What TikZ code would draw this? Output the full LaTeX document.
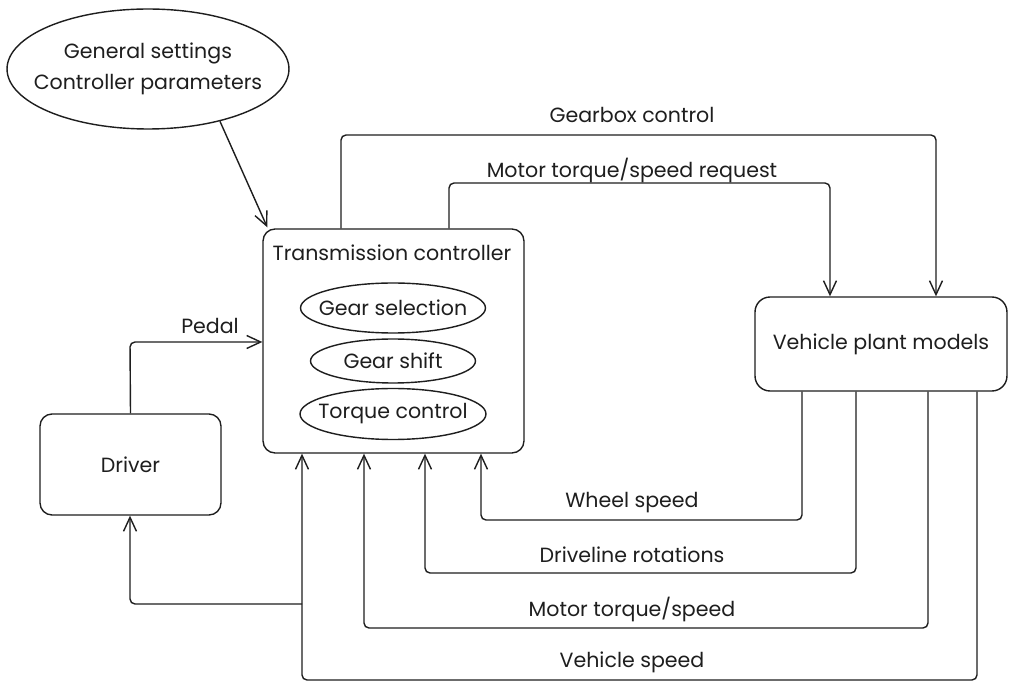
\documentclass[tikz,border=0pt]{standalone}
\usepackage{fontspec}
\setmainfont{Poppins}
\usetikzlibrary{shapes.geometric,arrows.meta}

\definecolor{ink}{HTML}{1E1E1E}
\tikzset{
  box/.style={draw=ink, line width=0.8pt, rounded corners=0.24cm},
  oval/.style={draw=ink, line width=0.8pt, ellipse, inner sep=0pt},
  flow/.style={draw=ink, line width=0.8pt, rounded corners=0.1cm,
    -{Straight Barb[length=2.8mm,width=2.6mm]}},
  lbl/.style={font=\fontsize{11.7}{18}\selectfont, text=ink}
}

\begin{document}
\begin{tikzpicture}[x=0.02cm, y=-0.02cm]
    \useasboundingbox (0,0) rectangle (1009,682);
    \fill[white] (0,0) rectangle (1009,682);

    % blocks
    \node[oval, minimum width=5.64cm, minimum height=2.4cm] (settings) at (148,69) {};
    \node[lbl, align=center] (settingstext) at (settings) {General settings\\Controller parameters};
    \node[box, minimum width=5.22cm, minimum height=4.48cm] (ctrl) at (393.5,341) {};
    \node[lbl] (ctrltitle) at (392,253) {Transmission controller};
    \node[oval, minimum width=3.7cm, minimum height=1.0cm] (gearsel) at (393,308) {};
    \node[lbl] (gearseltext) at (gearsel) {Gear selection};
    \node[oval, minimum width=3.3cm, minimum height=0.88cm] (gearshift) at (393,361) {};
    \node[lbl] (gearshifttext) at (gearshift) {Gear shift};
    \node[oval, minimum width=3.72cm, minimum height=1.02cm] (torque) at (393,414) {};
    \node[lbl] (torquetext) at (torque) {Torque control};
    \node[box, lbl, rounded corners=0.3cm, minimum width=5.04cm, minimum height=1.88cm] (plant) at (881,344) {Vehicle plant models};
    \node[box, lbl, minimum width=3.62cm, minimum height=2.02cm] (driver) at (130.5,464.5) {Driver};

    % settings into the controller
    \draw[flow] (settings.-36) -- ([xshift=0.1cm,yshift=0.02cm]ctrl.north west);

    % pedal
    \coordinate (pd) at (130,342);
    \draw[flow] (driver.north) -- (pd) -- (pd -| ctrl.west);
    \node[lbl] (pdlabel) at (210,326) {Pedal};

    % commands to the plant
    \coordinate (gbl) at (341,135);
    \coordinate (gbr) at (936,135);
    \draw[flow] (ctrl.north -| gbl) -- (gbl) -- (gbr) -- (gbr |- plant.north);
    \node[lbl] (gblabel) at (632,115) {Gearbox control};

    \coordinate (mrl) at (449,183);
    \coordinate (mrr) at (830,183);
    \draw[flow] (ctrl.north -| mrl) -- (mrl) -- (mrr) -- (mrr |- plant.north);
    \node[lbl] (mrlabel) at (632,170) {Motor torque/speed request};

    % measurements back to the controller
    \coordinate (wsr) at (802,520);
    \coordinate (wsl) at (481,520);
    \draw[flow] (wsr |- plant.south) -- (wsr) -- (wsl) -- (wsl |- ctrl.south);
    \node[lbl] (wslabel) at (632,503) {Wheel speed};

    \coordinate (drr) at (856,573);
    \coordinate (drl) at (425,573);
    \draw[flow] (drr |- plant.south) -- (drr) -- (drl) -- (drl |- ctrl.south);
    \node[lbl] (drlabel) at (632,555) {Driveline rotations};

    \coordinate (mtr) at (928,628);
    \coordinate (mtl) at (364,628);
    \draw[flow] (mtr |- plant.south) -- (mtr) -- (mtl) -- (mtl |- ctrl.south);
    \node[lbl] (mtlabel) at (632,609) {Motor torque/speed};

    \coordinate (vsr) at (977,680);
    \coordinate (vsl) at (302,680);
    \draw[flow] (vsr |- plant.south) -- (vsr) -- (vsl) -- (vsl |- ctrl.south);
    \node[lbl] (vslabel) at (632,662) {Vehicle speed};

    % vehicle speed also goes to the driver
    \coordinate (dfr) at (302,604);
    \coordinate (dfl) at (130,604);
    \draw[flow] (dfr) -- (dfl) -- (dfl |- driver.south);
\end{tikzpicture}
\end{document}
